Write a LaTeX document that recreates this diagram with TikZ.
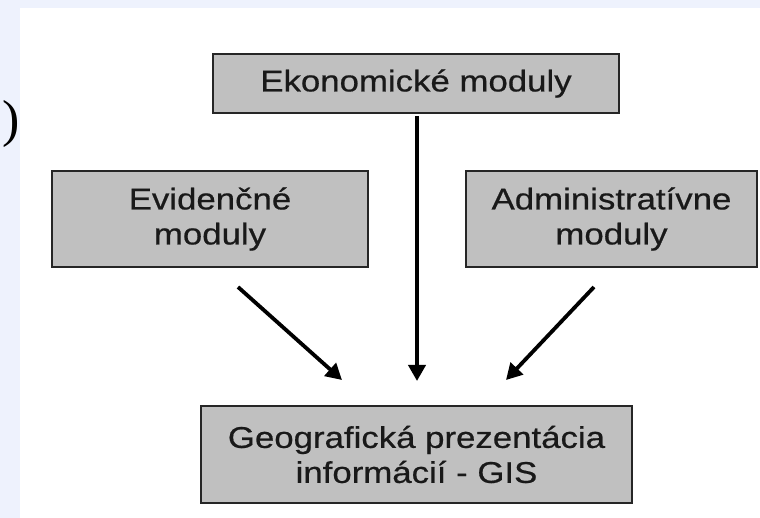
\documentclass[tikz,border=0pt]{standalone}
\usepackage{fontspec}
\setmainfont{Liberation Sans}[FakeStretch=1.16,FakeBold=0.6]
\newfontfamily\serifparen{Liberation Serif}
\usetikzlibrary{arrows.meta}
\definecolor{bgblue}{HTML}{EEF2FD}
\definecolor{boxgray}{HTML}{C0C0C0}
\tikzset{
  modbox/.style={draw=black!85, line width=1.8pt, fill=boxgray, inner sep=0pt,
    align=center, font=\fontsize{30}{35}\selectfont, text=black!90},
  arr/.style={line width=3.8pt, -{Triangle[length=16pt,width=17pt]}}
}
\begin{document}
\begin{tikzpicture}[x=1pt,y=-1pt]
\useasboundingbox (0,0) rectangle (760,518);
\fill[bgblue] (0,0) rectangle (760,518);
\fill[white] (20,8) rectangle (760,518);
\node[font=\serifparen\fontsize{52}{52}\selectfont, anchor=center] (par) at (11,124) {)};
\node[modbox, minimum width=406pt, minimum height=59pt] (eko) at (416,83.5) {Ekonomické moduly};
\node[modbox, minimum width=316pt, minimum height=96pt] (evi) at (210,219) {Evidenčné\\moduly};
\node[modbox, minimum width=291pt, minimum height=96pt] (adm) at (611.5,219) {Administratívne\\moduly};
\node[modbox, minimum width=431pt, minimum height=97pt] (geo) at (416.5,454.5) {Geografická prezentácia\\informácií - GIS};
\coordinate (ls) at (238,287);
\coordinate (le) at (342,380);
\coordinate (rs) at (594,287);
\coordinate (re) at (506,380);
\coordinate (vs) at (417,116);
\coordinate (ve) at (417,381);
\draw[arr] (vs) -- (ve);
\draw[arr] (ls) -- (le);
\draw[arr] (rs) -- (re);
\end{tikzpicture}
\end{document}
